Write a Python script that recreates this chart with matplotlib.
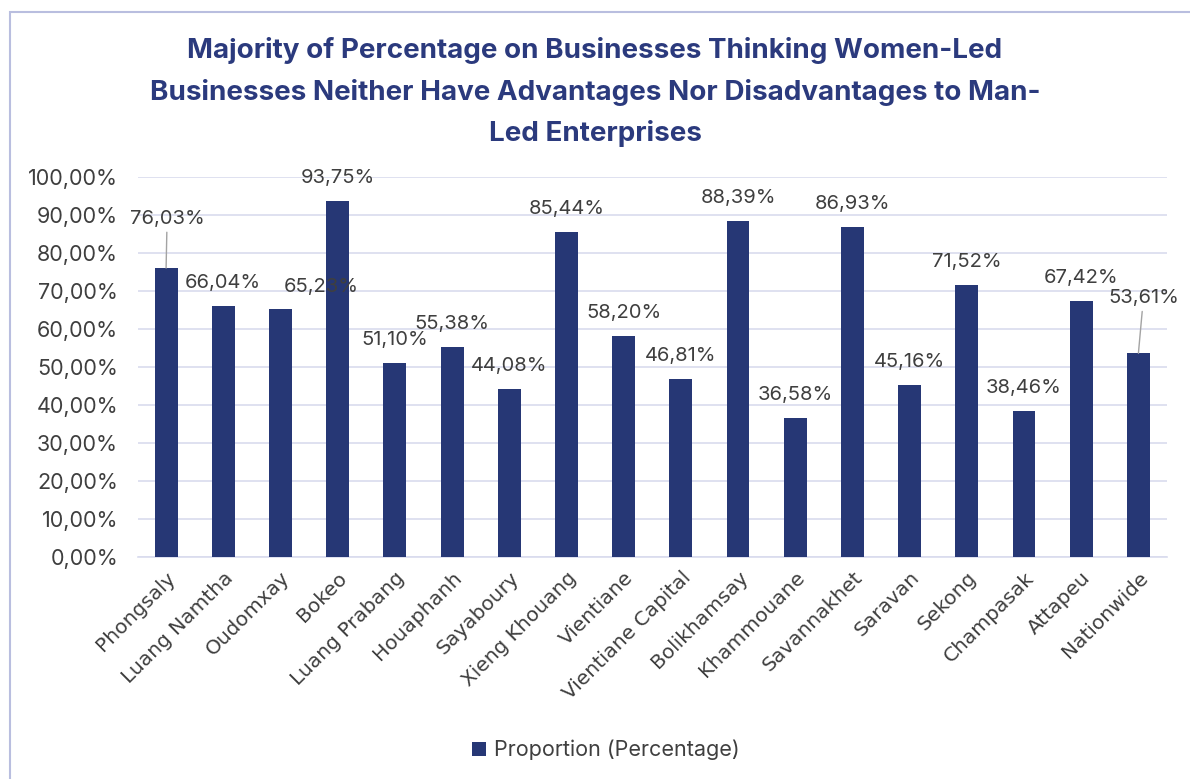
import matplotlib.pyplot as plt
from matplotlib.patches import Rectangle
from matplotlib.ticker import FuncFormatter, MultipleLocator

# data
provinces = [
    "Phongsaly", "Luang Namtha", "Oudomxay", "Bokeo", "Luang Prabang",
    "Houaphanh", "Sayaboury", "Xieng Khouang", "Vientiane", "Vientiane Capital",
    "Bolikhamsay", "Khammouane", "Savannakhet", "Saravan", "Sekong",
    "Champasak", "Attapeu", "Nationwide",
]
proportions = [
    76.03, 66.04, 65.23, 93.75, 51.10, 55.38, 44.08, 85.44, 58.20,
    46.81, 88.39, 36.58, 86.93, 45.16, 71.52, 38.46, 67.42, 53.61,
]
series_name = "Proportion (Percentage)"
title = ("Majority of Percentage on Businesses Thinking Women-Led\n"
         "Businesses Neither Have Advantages Nor Disadvantages to Man-\n"
         "Led Enterprises")

NAVY = "#263775"
TITLE_COLOR = "#2b3a7d"
TEXT = "#3f3f3f"
GRID = "#d9dcee"
PX = 72 / 100  # pixels -> points

# labels that were moved by hand in the original (offsets in px)
label_offsets = {
    "Phongsaly": (1, 49),
    "Oudomxay": (41, 22),
    "Nationwide": (5, 55),
}
leader_lines = {"Phongsaly", "Nationwide"}


def pct(v, _pos=None):
    return f"{v:.2f}%".replace(".", ",")


plt.rcParams["font.family"] = ["Inter", "DejaVu Sans"]

fig = plt.figure(figsize=(11.9, 7.79), dpi=100)
ax = fig.add_axes([137.5 / 1190, 1 - 557 / 779, (1167 - 137.5) / 1190, (557 - 177) / 779])

x = range(len(provinces))
bars = ax.bar(x, proportions, width=0.40, color=NAVY, label=series_name, zorder=3)

for i, (name, v) in enumerate(zip(provinces, proportions)):
    dx, dy = label_offsets.get(name, (0, 23))
    arrow = None
    if name in leader_lines:
        arrow = dict(arrowstyle="-", color="#a3a3a3", lw=1.0, shrinkA=1, shrinkB=0)
    ax.annotate(pct(v), xy=(i, v), xytext=(dx * PX, dy * PX), textcoords="offset points",
                ha="center", va="center", fontsize=14.5, color=TEXT,
                arrowprops=arrow, zorder=4, annotation_clip=False)

ax.set_xlim(-0.5, len(provinces) - 0.5)
ax.set_ylim(0, 100)
ax.yaxis.set_major_locator(MultipleLocator(10))
ax.yaxis.set_major_formatter(FuncFormatter(pct))
ax.grid(axis="y", color=GRID, lw=1.2, zorder=0)
ax.set_axisbelow(True)
for side in ["top", "right", "left"]:
    ax.spines[side].set_visible(False)
ax.spines["bottom"].set_color(GRID)
ax.spines["bottom"].set_linewidth(1.2)
ax.tick_params(axis="y", length=0, pad=14, labelsize=15.5, labelcolor=TEXT)
ax.tick_params(axis="x", length=0, pad=8)
ax.set_xticks(list(x))
ax.set_xticklabels(provinces, rotation=45, ha="right", rotation_mode="anchor",
                   fontsize=14.5, color=TEXT, family="DejaVu Sans")

fig.text(0.5, 1 - 37 / 779, title, ha="center", va="top", fontsize=20,
         fontweight="bold", color=TITLE_COLOR, linespacing=1.7)

fig.legend(handles=[bars], labels=[series_name], loc="center",
           bbox_to_anchor=(606 / 1190, 1 - 750 / 779), frameon=False,
           fontsize=15.5, labelcolor=TEXT, handlelength=0.65, handleheight=0.65,
           handletextpad=0.35)

# frame of the original chart box
fig.patches.append(Rectangle((10 / 1190, -0.05), 1.1, 1 - 12 / 779 + 0.05,
                             transform=fig.transFigure, fill=False,
                             edgecolor="#b9bedf", lw=1.5))

fig.savefig("out.png", dpi=100)
